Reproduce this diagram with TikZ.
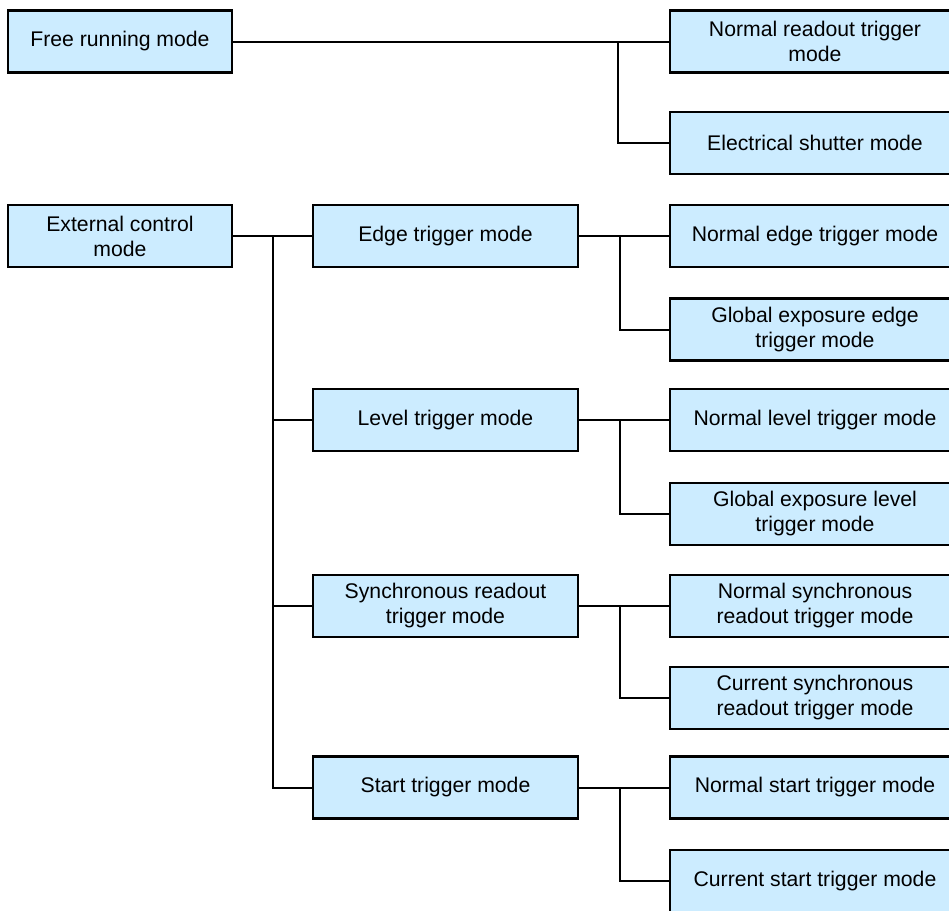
\documentclass[tikz,border=0pt]{standalone}
\usepackage{fontspec}
\setmainfont{Liberation Sans}
\definecolor{modeblue}{RGB}{204,236,255}
\begin{document}
\begin{tikzpicture}[x=0.5pt,y=-0.5pt,
    modebox/.style={draw=black,line width=1.2pt,fill=modeblue,inner sep=0pt,
        align=center,minimum height=31pt,
        font=\fontsize{10.6pt}{12.5pt}\selectfont},
    leftbox/.style={modebox,minimum width=112pt},
    midbox/.style={modebox,minimum width=132.5pt},
    rightbox/.style={modebox,minimum width=145pt},
    link/.style={line width=1pt}]
        \useasboundingbox (0,0) rectangle (949,911);
        \clip (0,0) rectangle (949,911);

        \node[leftbox] (free) at (120,41.5){Free running mode};
        \node[leftbox] (ext) at (120,236){External control\\mode};

        \node[midbox] (edge) at (445.5,236){Edge trigger mode};
        \node[midbox] (level) at (445.5,420){Level trigger mode};
        \node[midbox] (sync) at (445.5,606){Synchronous readout\\trigger mode};
        \node[midbox] (start) at (445.5,787.5){Start trigger mode};

        \node[rightbox] (nread) at (815,41.5){Normal readout trigger\\mode};
        \node[rightbox] (shutter) at (815,143){Electrical shutter mode};
        \node[rightbox] (nedge) at (815,236){Normal edge trigger mode};
        \node[rightbox] (gedge) at (815,329.5){Global exposure edge\\trigger mode};
        \node[rightbox] (nlevel) at (815,420){Normal level trigger mode};
        \node[rightbox] (glevel) at (815,514){Global exposure level\\trigger mode};
        \node[rightbox] (nsync) at (815,606){Normal synchronous\\readout trigger mode};
        \node[rightbox] (csync) at (815,698){Current synchronous\\readout trigger mode};
        \node[rightbox] (nstart) at (815,787.5){Normal start trigger mode};
        \node[rightbox] (cstart) at (815,881){Current start trigger mode};

        \coordinate (freej) at (618,41.5);
        \coordinate (trunk) at (273,236);
        \coordinate (edgej) at (620,236);
        \coordinate (levelj) at (620,420);
        \coordinate (syncj) at (620,606);
        \coordinate (startj) at (620,787.5);

        \draw[link](free.east) to (nread.west);
        \draw[link](freej) |- (shutter.west);

        \draw[link](ext.east) to (edge.west);
        \draw[link](trunk) |- (level.west);
        \draw[link](trunk) |- (sync.west);
        \draw[link](trunk) |- (start.west);

        \draw[link](edge.east) to (nedge.west); \draw[link](edgej) |- (gedge.west);
        \draw[link](level.east) to (nlevel.west); \draw[link](levelj) |- (glevel.west);
        \draw[link](sync.east) to (nsync.west); \draw[link](syncj) |- (csync.west);
        \draw[link](start.east) to (nstart.west); \draw[link](startj) |- (cstart.west);

    \end{tikzpicture}
\end{document}
